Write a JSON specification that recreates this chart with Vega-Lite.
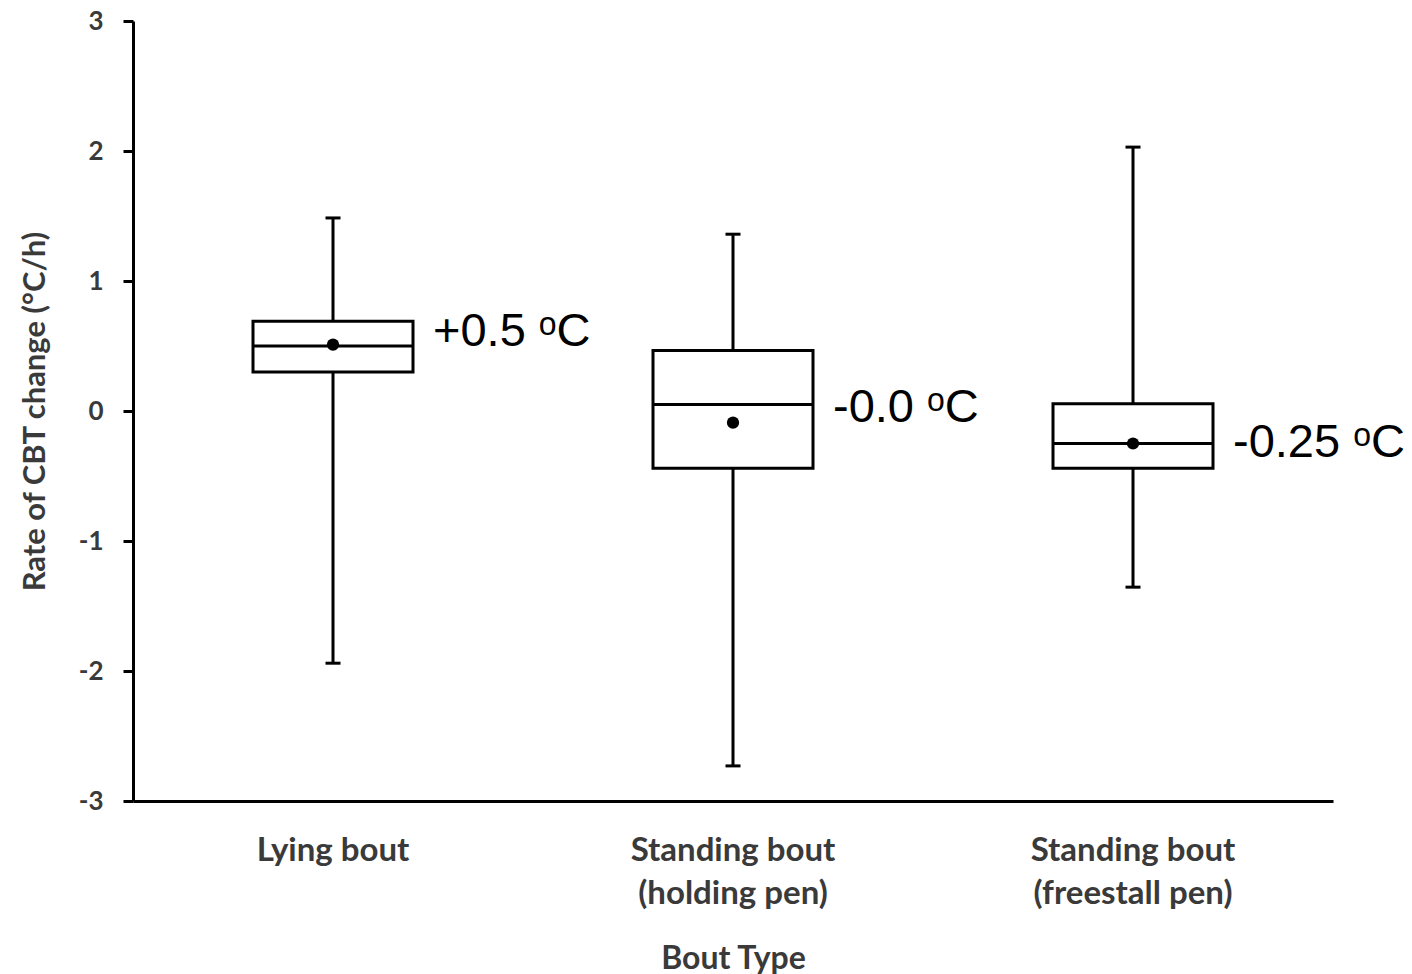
{
  "$schema": "https://vega.github.io/schema/vega-lite/v6.json",
  "width": 1200,
  "height": 780,
  "autosize": {"type": "none"},
  "padding": {"left": 133, "top": 21, "right": 79, "bottom": 173},
  "background": "white",
  "config": {"view": {"stroke": null}, "font": "Lato"},
  "datasets": {
    "boxes": [
      {"bout": "Lying bout", "lower": -1.94, "q1": 0.30, "median": 0.50, "q3": 0.69, "upper": 1.485, "mean": 0.51},
      {"bout": "Standing bout (holding pen)", "lower": -2.73, "q1": -0.44, "median": 0.05, "q3": 0.465, "upper": 1.36, "mean": -0.09},
      {"bout": "Standing bout (freestall pen)", "lower": -1.355, "q1": -0.44, "median": -0.25, "q3": 0.055, "upper": 2.03, "mean": -0.25}
    ],
    "labels": [
      {"bout": "Lying bout", "label": "+0.5 ᵒC", "label_y": 0.5},
      {"bout": "Standing bout (holding pen)", "label": "-0.0 ᵒC", "label_y": -0.085},
      {"bout": "Standing bout (freestall pen)", "label": "-0.25 ᵒC", "label_y": -0.355}
    ]
  },
  "encoding": {
    "x": {
      "field": "bout",
      "type": "nominal",
      "sort": null,
      "scale": {"paddingInner": 0, "paddingOuter": 0},
      "axis": {
        "orient": "bottom",
        "domainColor": "#000000",
        "domainWidth": 3,
        "ticks": false,
        "tickSize": 0,
        "labelAngle": 0,
        "labelLimit": 0,
        "labelFont": "Lato",
        "labelFontSize": 33,
        "labelFontWeight": "bold",
        "labelColor": "#3a3a3a",
        "labelBaseline": "top",
        "labelPadding": 33,
        "labelLineHeight": 43,
        "labelExpr": "indexof(datum.value, ' (') > 0 ? [substring(datum.value, 0, indexof(datum.value, ' (')), substring(datum.value, indexof(datum.value, ' (') + 1)] : datum.value",
        "title": "Bout Type",
        "titleFont": "Lato",
        "titleFontSize": 32,
        "titleFontWeight": "bold",
        "titleColor": "#3a3a3a",
        "titleX": 600,
        "titleY": 167,
        "titleBaseline": "alphabetic",
        "titleAlign": "center"
      }
    }
  },
  "layer": [
    {
      "data": {"name": "boxes"},
      "mark": {"type": "rule", "color": "#000000", "strokeWidth": 3},
      "encoding": {
        "y": {
          "field": "lower",
          "type": "quantitative",
          "scale": {"domain": [-3, 3], "nice": false, "zero": false},
          "axis": {
            "values": [-3, -2, -1, 0, 1, 2, 3],
            "labelExpr": "'' + datum.value",
            "grid": false,
            "domainColor": "#000000",
            "domainWidth": 3,
            "tickColor": "#000000",
            "tickWidth": 3,
            "tickSize": 10,
            "labelFont": "Lato",
            "labelFontSize": 26,
            "labelFontWeight": "bold",
            "labelColor": "#3a3a3a",
            "labelPadding": 20,
            "title": "Rate of CBT change (°C/h)",
            "titleFont": "Lato",
            "titleFontSize": 31,
            "titleFontWeight": "bold",
            "titleColor": "#3a3a3a",
            "titleAngle": -90,
            "titleX": -98,
            "titleY": 390,
            "titleAlign": "center",
            "titleBaseline": "middle"
          }
        },
        "y2": {"field": "upper"}
      }
    },
    {
      "data": {"name": "boxes"},
      "mark": {"type": "bar", "width": 160, "fill": "white", "stroke": "#000000", "strokeWidth": 3},
      "encoding": {
        "y": {"field": "q1", "type": "quantitative"},
        "y2": {"field": "q3"}
      }
    },
    {
      "data": {"name": "boxes"},
      "mark": {"type": "tick", "orient": "horizontal", "size": 160, "thickness": 3, "color": "#000000", "opacity": 1},
      "encoding": {"y": {"field": "median", "type": "quantitative"}}
    },
    {
      "data": {"name": "boxes"},
      "mark": {"type": "tick", "orient": "horizontal", "size": 15, "thickness": 3, "color": "#000000", "opacity": 1},
      "encoding": {"y": {"field": "upper", "type": "quantitative"}}
    },
    {
      "data": {"name": "boxes"},
      "mark": {"type": "tick", "orient": "horizontal", "size": 15, "thickness": 3, "color": "#000000", "opacity": 1},
      "encoding": {"y": {"field": "lower", "type": "quantitative"}}
    },
    {
      "data": {"name": "boxes"},
      "mark": {"type": "point", "filled": true, "size": 150, "color": "#000000", "opacity": 1},
      "encoding": {"y": {"field": "mean", "type": "quantitative"}}
    },
    {
      "data": {"name": "labels"},
      "mark": {"type": "text", "align": "left", "baseline": "alphabetic", "dx": 100, "font": "Liberation Sans", "fontSize": 47, "color": "#000000"},
      "encoding": {
        "y": {"field": "label_y", "type": "quantitative"},
        "text": {"field": "label"}
      }
    }
  ]
}
